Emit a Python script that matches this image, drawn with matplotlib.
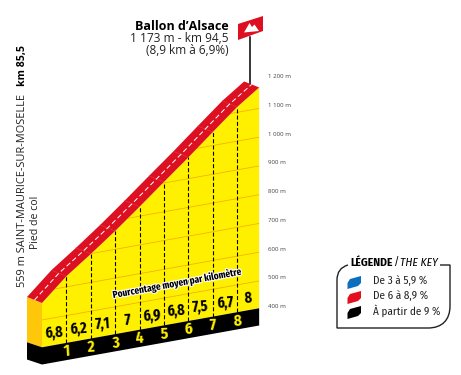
import matplotlib
matplotlib.use("Agg")
import matplotlib.pyplot as plt
import numpy as np
from matplotlib.patches import Polygon, PathPatch
from matplotlib.path import Path
from matplotlib.transforms import Affine2D
import matplotlib.patheffects as pe
import logging
logging.getLogger("matplotlib.font_manager").setLevel(logging.ERROR)

# ---- data ----
km = [0, 1, 2, 3, 4, 5, 6, 7, 8, 8.9]
elevation = [559, 637, 699, 764, 833, 904, 974, 1047, 1119, 1173]
gradient_labels = ["6,8", "6,2", "7,1", "7", "6,9", "6,8", "7,5", "6,7", "8"]
gradient_pos = [0.5, 1.5, 2.5, 3.5, 4.5, 5.5, 6.5, 7.5, 8.45]
km_ticks = [1, 2, 3, 4, 5, 6, 7, 8]
scale_ticks = [400, 500, 600, 700, 800, 900, 1000, 1100, 1200]
scale_labels = ["400 m", "500 m", "600 m", "700 m", "800 m", "900 m", "1 000 m", "1 100 m", "1 200 m"]
grid_levels = [500, 600, 700, 800, 900, 1000, 1100]
legend_labels = ["De 3 à 5,9 %", "De 6 à 8,9 %", "À partir de 9 %"]
legend_colors = ["#0b6fc0", "#e2101f", "#000000"]

NARROW = ["Fira Sans Condensed", "Open Sans", "DejaVu Sans"]
XNARROW = ["Fira Sans Extra Condensed", "Open Sans", "DejaVu Sans"]
OPEN = ["Open Sans", "DejaVu Sans"]

W, H = 461, 375
fig = plt.figure(figsize=(W / 100, H / 100), dpi=100, facecolor="white")
ax = fig.add_axes([0, 0, 1, 1])
PX_KM, PX_M, X0, Y0 = 24.4, 0.2875, 42, 303
ax.set_xlim(-X0 / PX_KM, (W - X0) / PX_KM)
ax.set_ylim(559 - (H - Y0) / PX_M, 559 + Y0 / PX_M)
ax.axis("off")

a = 4.385 / PX_M
shear = Affine2D(np.array([[1, 0, 0], [a, 1, 0], [0, 0, 1.0]])) + ax.transData
back = shear + Affine2D().translate(-15, 6)
mid = shear + Affine2D().translate(-7.5, 3)
band_back = shear + Affine2D().translate(-15, 5)
px = Affine2D().scale(1, -1).translate(0, H)

km_a, el_a = np.array(km), np.array(elevation, float)
TOP_BASE, BOT_BASE = 405, 345


def disp(tr, x, y):
    return tr.transform(np.column_stack([x, y]))


# yellow front face
yellow_pts = np.vstack([np.column_stack([km_a, el_a]), [[8.9, TOP_BASE], [0, TOP_BASE]]])
yellow = Polygon(yellow_pts, closed=True, fc="#fff000", ec="none", transform=shear, zorder=2)
ax.add_patch(yellow)
for lv in grid_levels:
    ln, = ax.plot([0, 8.9], [lv, lv], color="#f2b400", lw=0.6, transform=shear, zorder=3)
    ln.set_clip_path(yellow)

# left face
left_disp = np.vstack([disp(back, [0], [559]), disp(shear, [0], [559]),
                       disp(shear, [0], [TOP_BASE]), disp(band_back, [0], [TOP_BASE])])
ax.add_patch(Polygon(left_disp, closed=True, fc="#ffc70a", ec="none", transform=None, zorder=2))

# black base
base = Polygon([[0, BOT_BASE], [8.9, BOT_BASE], [8.9, TOP_BASE], [0, TOP_BASE]],
               closed=True, fc="black", ec="none", transform=shear, zorder=2)
ax.add_patch(base)
left_base = np.vstack([disp(band_back, [0], [TOP_BASE]), disp(shear, [0], [TOP_BASE]),
                       disp(shear, [0], [BOT_BASE]), disp(band_back, [0], [BOT_BASE])])
ax.add_patch(Polygon(left_base, closed=True, fc="black", ec="none", transform=None, zorder=2))

# red slope band
band = np.vstack([disp(shear, km_a, el_a), disp(back, km_a, el_a)[::-1]])
ax.add_patch(Polygon(band, closed=True, fc="#dc1021", ec="none", transform=None, zorder=4))
for k, e in zip(km[1:-1], elevation[1:-1]):
    seg = np.vstack([disp(shear, [k], [e]), disp(back, [k], [e])])
    ax.plot(seg[:, 0], seg[:, 1], color="#e63944", lw=0.4, transform=None, zorder=5)
ax.plot(km, elevation, color="white", lw=0.7, ls=(0, (5, 3)), transform=mid, zorder=5)

# km dashed verticals
for k in km_ticks:
    ax.plot([k, k], [TOP_BASE, np.interp(k, km, elevation)], color="black", lw=0.8,
            ls=(0, (3.6, 2)), transform=shear, zorder=3)
    ax.text(k, 375, str(k), color="#fff000", family=XNARROW, weight="bold", fontsize=12,
            ha="center", va="center", rotation=3, transform=shear, zorder=6)

for p, lab in zip(gradient_pos, gradient_labels):
    ax.text(p, 447, lab, color="black", family=XNARROW, weight="bold", fontsize=11,
            ha="center", va="center", rotation=4, transform=shear, zorder=6)

ax.text(5.55, 544, "Pourcentage moyen par kilomètre", color="black", family=XNARROW,
        weight="bold", fontsize=7.2, ha="center", va="center", rotation=10.4, transform=shear,
        zorder=6, path_effects=[pe.withStroke(linewidth=1.6, foreground="white")])

# scale labels
for t, lab in zip(scale_ticks, scale_labels):
    ax.text(9.26, t + 5, lab, color="#444444", family=OPEN, fontsize=4.4,
            ha="left", va="center", transform=shear, zorder=6)

# summit: pole and flag
ax.plot([250, 250], [37, 84], color="black", lw=1.1, transform=px, zorder=1)
ax.add_patch(Polygon([[238, 24], [263, 16], [263, 31], [238, 40]], closed=True, fc="#dc1021",
                     ec="none", transform=px, zorder=3))
ax.add_patch(Polygon([[244, 32.5], [249.5, 23], [252, 27], [254.5, 24.5], [259, 31]], closed=True,
                     fc="white", ec="none", transform=px, zorder=4))

# title block
ax.text(229, 27, "Ballon d’Alsace", family=OPEN, weight="bold", fontsize=9, ha="right",
        va="center", color="black", transform=px)
ax.text(229, 38.5, "1 173 m - km 94,5", family=OPEN, fontsize=8.6, ha="right", va="center",
        color="#222222", transform=px)
ax.text(229, 50.5, "(8,9 km à 6,9%)", family=OPEN, fontsize=8.5, ha="right", va="center",
        color="#222222", transform=px)

# rotated start labels
ax.text(23, 287, "559 m SAINT-MAURICE-SUR-MOSELLE", family=OPEN, fontsize=7.9, rotation=90,
        ha="center", va="bottom", color="#222222", transform=px)
ax.text(23, 86, "km 85,5", family=OPEN, weight="bold", fontsize=7.6, rotation=90,
        ha="center", va="bottom", color="black", transform=px)
ax.text(36, 249, "Pied de col", family=OPEN, fontsize=7.6, rotation=90,
        ha="center", va="bottom", color="#222222", transform=px)

# legend frame
verts = [(440, 265), (450, 265), (450, 306), (450, 320), (442, 328), (428, 328), (337, 328), (337, 280),
         (337, 268), (348, 265)]
codes = [Path.MOVETO, Path.LINETO, Path.LINETO, Path.CURVE4, Path.CURVE4, Path.CURVE4,
         Path.LINETO, Path.LINETO, Path.CURVE3, Path.CURVE3]
ax.add_patch(PathPatch(Path(verts, codes), fc="none", ec="#222222", lw=1.0, transform=px, zorder=3))
ax.text(350, 263, "LÉGENDE", family=NARROW, weight="bold", fontsize=8.3, ha="left", va="center",
        color="black", transform=px)
ax.text(394, 263, "/", family=NARROW, fontsize=8.3, ha="left", va="center", color="black", transform=px)
ax.text(400, 263, "THE KEY", family=NARROW, style="italic", fontsize=8.3, ha="left", va="center",
        color="black", transform=px)
for i, (lab, col) in enumerate(zip(legend_labels, legend_colors)):
    y = 281 + 15 * i
    ax.text(373, y, lab, family=NARROW, fontsize=8, ha="left", va="center", color="#222222", transform=px)
    ax.add_patch(Polygon([[347.5, y + 2], [350, y - 2], [361, y - 5], [361, y + 2], [358, y + 5], [347.5, y + 8]],
                         closed=True, fc=col, ec="none", transform=px, zorder=3, joinstyle="round"))

fig.savefig("out.png", dpi=100, facecolor="white")
